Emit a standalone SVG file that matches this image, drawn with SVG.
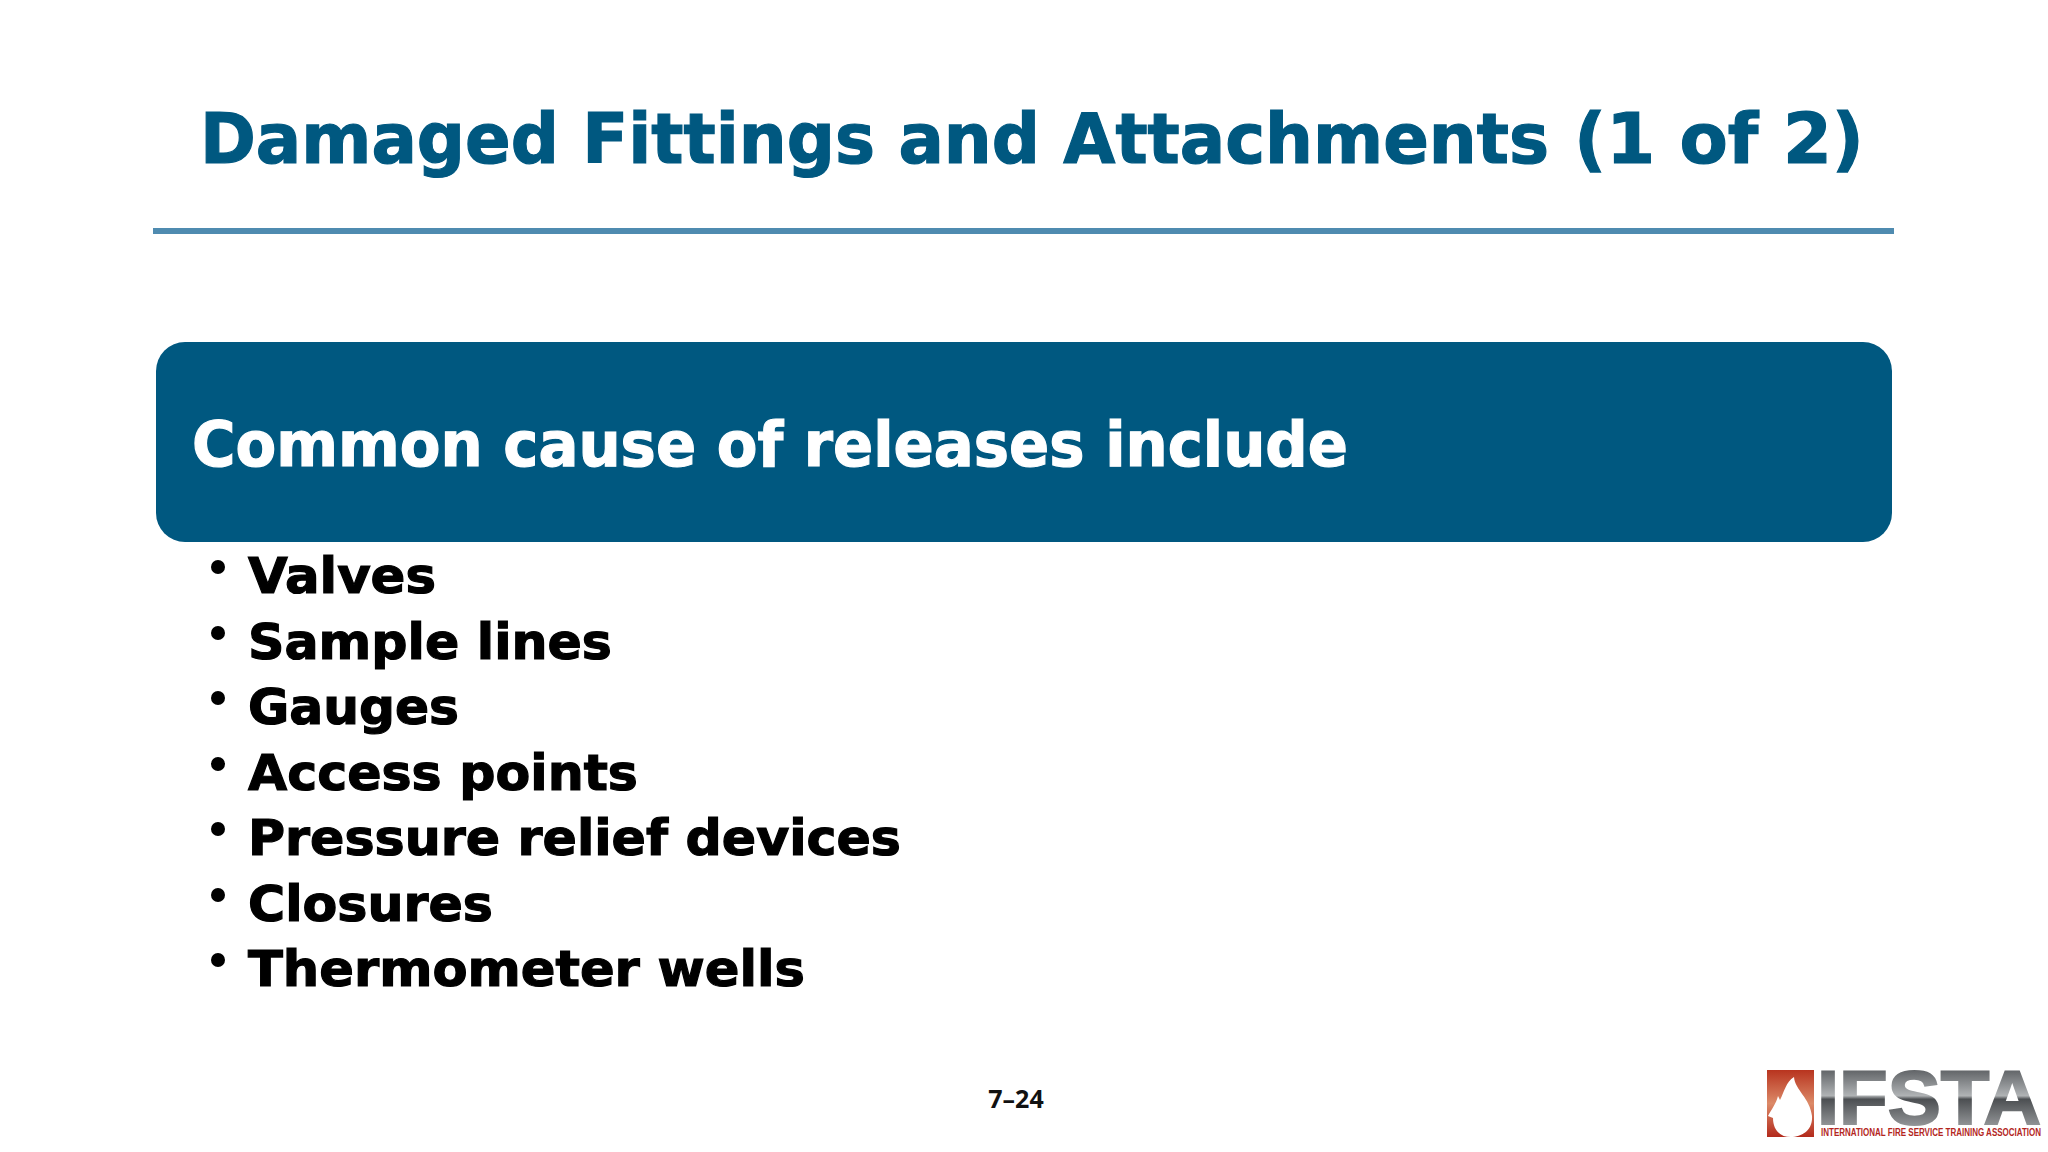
<svg xmlns="http://www.w3.org/2000/svg" width="2048" height="1152" viewBox="0 0 2048 1152">
<style>
text{font-family:"DejaVu Sans",Verdana,sans-serif;font-weight:700}
.t{font-size:70px;fill:#005880;stroke:#005880;stroke-width:1.2px}
.b{font-size:50px;fill:#000;stroke:#000;stroke-width:1.2px}
.d{fill:#000}
.l{font-family:"Liberation Sans",Arial,sans-serif}
</style>
<defs>
<linearGradient id="m" x1="0" y1="0" x2="0" y2="1"><stop offset="0" stop-color="#33363a"/><stop offset=".48" stop-color="#b0b3b5"/><stop offset=".52" stop-color="#4c4f52"/><stop offset="1" stop-color="#b8babc"/></linearGradient>
<linearGradient id="r" x1="0" y1="0" x2="0" y2="1"><stop offset="0" stop-color="#b8341f"/><stop offset=".5" stop-color="#dc8a68"/><stop offset="1" stop-color="#b32a1c"/></linearGradient>
</defs>
<rect width="2048" height="1152" fill="#fff"/>
<g id="title"><text class="t" transform="translate(200 162.500) scale(.95 1)" textLength="1420" lengthAdjust="spacingAndGlyphs">Damaged Fittings and Attachments</text>
<text class="t" x="1574" y="162.500" textLength="290" lengthAdjust="spacingAndGlyphs">(1 of 2)</text>
<rect x="153" y="228" width="1741" height="6" fill="#4f8bb0"/></g>
<g id="header"><rect x="156" y="342" width="1736" height="200" rx="29" fill="#005880"/>
<text x="192" y="466" font-size="62" fill="#fff" stroke="#fff" stroke-width="1.2" textLength="1156" lengthAdjust="spacingAndGlyphs">Common cause of releases include</text></g>
<g id="list">
<circle class="d" cx="218" cy="567" r="7"/><text class="b" x="248" y="592.500" textLength="188" lengthAdjust="spacingAndGlyphs">Valves</text>
<circle class="d" cx="218" cy="633" r="7"/><text class="b" x="248" y="658.500" textLength="364" lengthAdjust="spacingAndGlyphs">Sample lines</text>
<circle class="d" cx="218" cy="698" r="7"/><text class="b" x="248" y="724" textLength="211" lengthAdjust="spacingAndGlyphs">Gauges</text>
<circle class="d" cx="218" cy="764" r="7"/><text class="b" x="248" y="789.500" textLength="390" lengthAdjust="spacingAndGlyphs">Access points</text>
<circle class="d" cx="218" cy="829" r="7"/><text class="b" x="248" y="854.500" textLength="653" lengthAdjust="spacingAndGlyphs">Pressure relief devices</text>
<circle class="d" cx="218" cy="895" r="7"/><text class="b" x="248" y="920.500" textLength="245" lengthAdjust="spacingAndGlyphs">Closures</text>
<circle class="d" cx="218" cy="960" r="7"/><text class="b" x="248" y="985.500" textLength="557" lengthAdjust="spacingAndGlyphs">Thermometer wells</text>
</g>
<g id="page"><text x="1016" y="1108" font-size="25" text-anchor="middle" fill="#111" style="font-family:'Open Sans','Noto Sans',sans-serif">7–24</text></g>
<g id="logo">
<rect x="1767" y="1070" width="47" height="67" fill="url(#r)"/>
<path d="M1794 1077C1795 1090 1810 1098 1812 1116C1813 1130 1802 1137 1791 1137C1780 1137 1773 1130 1773 1118L1768 1116C1771 1110 1776 1104 1778 1096L1780 1100C1784 1092 1786 1082 1794 1077Z" fill="#fff"/>
<text class="l" x="1817" y="1124" font-size="76" textLength="224" lengthAdjust="spacingAndGlyphs" fill="url(#m)" stroke="url(#m)" stroke-width="2">IFSTA</text>
<text class="l" transform="translate(1821 1136) scale(.667 1)" font-size="11" textLength="330" lengthAdjust="spacingAndGlyphs" fill="#b3261e">INTERNATIONAL FIRE SERVICE TRAINING ASSOCIATION</text>
</g>
</svg>
